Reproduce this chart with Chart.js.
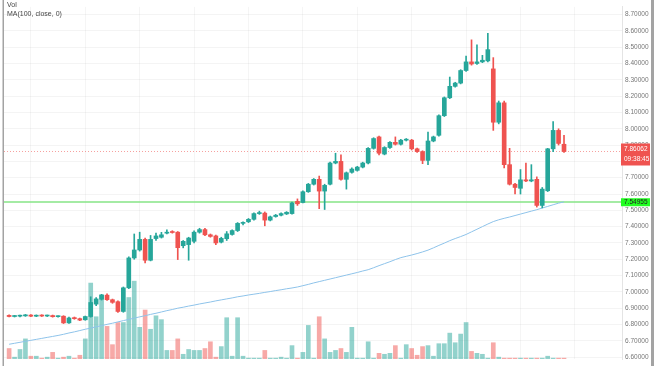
<!DOCTYPE html>
<html>
<head>
<meta charset="utf-8">
<script src="https://cdn.jsdelivr.net/npm/chart.js@4.4.0/dist/chart.umd.min.js"></script>
<style>
  html, body { margin: 0; padding: 0; background: #fff; }
  #wrap { position: relative; width: 654px; height: 366px; overflow: hidden; }
  #grafico { display: block; }
  .legenda { position: absolute; left: 7px; font: 7px "Liberation Sans", Arial, sans-serif; color: #444; white-space: nowrap; }
</style>
</head>
<body>
<div id="wrap">
  <canvas id="grafico" width="654" height="366"></canvas>
  <div class="legenda" style="top:1px">Vol</div>
  <div class="legenda" style="top:10px">MA(100, close, 0)</div>
</div>
<script>
// velas
const abertura = [
  6.856, 6.849, 6.851, 6.853, 6.858, 6.851, 6.856, 6.852, 6.855, 6.848,
  6.851, 6.810, 6.840, 6.836, 6.829, 6.849, 6.925, 6.955, 6.980, 6.952,
  6.940, 6.880, 7.025, 7.208, 7.257, 7.322, 7.194, 7.327, 7.335, 7.360,
  7.368, 7.366, 7.283, 7.290, 7.310, 7.366, 7.382, 7.350, 7.343, 7.305,
  7.326, 7.352, 7.376, 7.420, 7.430, 7.445, 7.480, 7.483, 7.440, 7.462,
  7.470, 7.478, 7.480, 7.555, 7.548, 7.614, 7.660, 7.690, 7.618, 7.660,
  7.790, 7.800, 7.690, 7.733, 7.745, 7.765, 7.790, 7.880, 7.950, 7.845,
  7.885, 7.917, 7.905, 7.930, 7.930, 7.877, 7.860, 7.806, 7.925, 7.960,
  8.080, 8.190, 8.260, 8.280, 8.357, 8.410, 8.400, 8.410, 8.416, 8.367,
  8.040, 8.159, 7.780, 7.660, 7.635, 7.687, 7.680, 7.690, 7.530, 7.620,
  7.877, 7.990, 7.905
];
const maximas = [
  6.860, 6.856, 6.858, 6.862, 6.861, 6.859, 6.860, 6.858, 6.858, 6.854,
  6.854, 6.845, 6.846, 6.840, 6.852, 6.970, 6.965, 6.985, 6.988, 6.956,
  6.945, 7.030, 7.215, 7.355, 7.366, 7.330, 7.346, 7.360, 7.365, 7.380,
  7.375, 7.370, 7.315, 7.335, 7.375, 7.390, 7.390, 7.355, 7.348, 7.335,
  7.370, 7.380, 7.425, 7.430, 7.450, 7.485, 7.495, 7.490, 7.465, 7.475,
  7.485, 7.492, 7.550, 7.570, 7.620, 7.665, 7.695, 7.710, 7.660, 7.795,
  7.850, 7.840, 7.735, 7.760, 7.770, 7.795, 7.885, 7.945, 7.955, 7.890,
  7.922, 7.950, 7.935, 7.940, 7.935, 7.882, 7.865, 7.980, 7.955, 8.085,
  8.195, 8.317, 8.285, 8.362, 8.446, 8.545, 8.515, 8.450, 8.585, 8.436,
  8.170, 8.170, 7.880, 7.665, 7.750, 7.790, 7.780, 7.705, 7.640, 7.880,
  8.044, 8.000, 7.960
];
const minimas = [
  6.846, 6.846, 6.847, 6.850, 6.848, 6.848, 6.849, 6.849, 6.845, 6.845,
  6.806, 6.806, 6.832, 6.823, 6.826, 6.845, 6.915, 6.950, 6.948, 6.930,
  6.874, 6.875, 7.020, 7.200, 7.250, 7.178, 7.190, 7.315, 7.330, 7.355,
  7.360, 7.198, 7.270, 7.194, 7.300, 7.360, 7.345, 7.335, 7.290, 7.300,
  7.315, 7.348, 7.370, 7.410, 7.425, 7.440, 7.475, 7.405, 7.435, 7.458,
  7.465, 7.474, 7.476, 7.530, 7.545, 7.610, 7.655, 7.510, 7.505, 7.655,
  7.785, 7.685, 7.630, 7.728, 7.740, 7.760, 7.785, 7.875, 7.840, 7.840,
  7.880, 7.900, 7.900, 7.925, 7.870, 7.855, 7.786, 7.780, 7.920, 7.955,
  8.075, 8.185, 8.255, 8.275, 8.352, 8.390, 8.395, 8.405, 8.410, 7.990,
  8.030, 7.760, 7.655, 7.600, 7.600, 7.675, 7.675, 7.520, 7.515, 7.615,
  7.860, 7.900, 7.855
];
const fechamento = [
  6.849, 6.853, 6.855, 6.858, 6.851, 6.856, 6.852, 6.855, 6.848, 6.851,
  6.810, 6.840, 6.836, 6.827, 6.849, 6.935, 6.957, 6.980, 6.952, 6.936,
  6.880, 7.025, 7.208, 7.257, 7.322, 7.194, 7.322, 7.343, 7.350, 7.366,
  7.364, 7.271, 7.310, 7.330, 7.366, 7.382, 7.350, 7.340, 7.300, 7.328,
  7.356, 7.376, 7.420, 7.425, 7.445, 7.480, 7.484, 7.440, 7.460, 7.470,
  7.480, 7.488, 7.545, 7.540, 7.614, 7.660, 7.690, 7.618, 7.653, 7.790,
  7.800, 7.690, 7.730, 7.753, 7.765, 7.790, 7.880, 7.940, 7.850, 7.885,
  7.917, 7.905, 7.930, 7.935, 7.877, 7.860, 7.806, 7.925, 7.950, 8.080,
  8.190, 8.260, 8.280, 8.357, 8.410, 8.397, 8.410, 8.420, 8.485, 8.040,
  8.159, 7.780, 7.660, 7.640, 7.687, 7.680, 7.687, 7.530, 7.630, 7.877,
  7.990, 7.910, 7.86062
];
const volume = [
  11, 2, 10, 21, 3, 3, 1, 2, 7, 1,
  2, 3, 1, 4, 21, 79, 44, 67, 34, 15,
  38, 38, 64, 81, 33, 51, 31, 45, 41, 9,
  9, 21, 5, 10, 9, 9, 11, 18, 2, 13,
  43, 3, 43, 3, 1, 1, 1, 9, 1, 1,
  2, 1, 14, 1, 7, 35, 1, 44, 21, 7,
  9, 11, 7, 33, 1, 1, 18, 1, 6, 5,
  6, 14, 1, 15, 11, 4, 13, 14, 3, 16,
  16, 27, 17, 26, 38, 8, 6, 5, 1, 17,
  2, 1, 1, 1, 1, 1, 1, 1, 1, 3,
  1, 1, 1
];
// média móvel 100 (close)
const media100 = [
  6.679, 6.685, 6.691, 6.697, 6.703, 6.709, 6.715, 6.721, 6.727, 6.733,
  6.740, 6.748, 6.755, 6.763, 6.771, 6.778, 6.786, 6.793, 6.801, 6.808,
  6.816, 6.824, 6.831, 6.839, 6.847, 6.854, 6.862, 6.869, 6.877, 6.885,
  6.892, 6.900, 6.906, 6.913, 6.919, 6.926, 6.932, 6.938, 6.945, 6.951,
  6.957, 6.963, 6.970, 6.975, 6.981, 6.986, 6.991, 6.997, 7.002, 7.008,
  7.013, 7.019, 7.024, 7.030, 7.038, 7.046, 7.055, 7.063, 7.071, 7.079,
  7.087, 7.095, 7.103, 7.111, 7.119, 7.128, 7.136, 7.148, 7.161, 7.173,
  7.185, 7.198, 7.210, 7.218, 7.226, 7.235, 7.245, 7.256, 7.270, 7.285,
  7.299, 7.314, 7.327, 7.339, 7.352, 7.368, 7.384, 7.400, 7.416, 7.431,
  7.442, 7.451, 7.459, 7.468, 7.477, 7.486, 7.495, 7.504, 7.514, 7.524,
  7.534, 7.544, 7.552
];
const rotulosPreco = [6.6, 6.7, 6.8, 6.9, 7.0, 7.1, 7.2, 7.3, 7.4, 7.5, 7.6, 7.7, 7.8, 7.9, 8.0, 8.1, 8.2, 8.3, 8.4, 8.5, 8.6, 8.7];
const linhasVerticais = [4, 14, 24, 34, 44, 54, 64, 74, 84, 94, 104];
const precoLinha = 7.54955;
const horaVela = "09:38:45";

const corAlta = '#26a69a';
const corBaixa = '#ef5350';

const indices = abertura.map((_, i) => i);
const ultimoPreco = fechamento[fechamento.length - 1];
const cores = indices.map(i => fechamento[i] >= abertura[i] ? corAlta : corBaixa);
const coresVolume = indices.map(i => fechamento[i] >= abertura[i] ? 'rgba(38,166,154,0.5)' : 'rgba(239,83,80,0.5)');

const corpos = indices.map(i => ({ x: i, y: [abertura[i], fechamento[i]] }));
const pavios = indices.map(i => ({ x: i, y: [minimas[i], maximas[i]] }));
const barrasVolume = indices.map(i => ({ x: i, y: volume[i] }));
const pontosMedia = indices.map(i => ({ x: i, y: media100[i] }));

const marcacoes = {
    id: 'marcacoes',
    beforeDatasetsDraw(chart) {
        const { ctx, chartArea, scales } = chart;
        const yVerde = Math.round(scales.y.getPixelForValue(precoLinha));
        const yVermelho = Math.round(scales.y.getPixelForValue(ultimoPreco)) + 0.5;
        ctx.save();
        ctx.strokeStyle = 'rgba(239,83,80,0.55)';
        ctx.lineWidth = 1;
        ctx.setLineDash([1, 2]);
        ctx.beginPath();
        ctx.moveTo(chartArea.left, yVermelho);
        ctx.lineTo(chartArea.right, yVermelho);
        ctx.stroke();
        ctx.setLineDash([]);
        ctx.strokeStyle = '#86e486';
        ctx.lineWidth = 1.5;
        ctx.beginPath();
        ctx.moveTo(chartArea.left, yVerde);
        ctx.lineTo(chartArea.right, yVerde);
        ctx.stroke();
        ctx.restore();
    },
    afterDraw(chart) {
        const { ctx, chartArea, scales } = chart;
        const yVerde = scales.y.getPixelForValue(precoLinha);
        const yVermelho = scales.y.getPixelForValue(ultimoPreco);
        const x0 = chartArea.right - 1;
        ctx.save();
        ctx.font = '6.5px "Liberation Sans", Arial, sans-serif';
        ctx.textBaseline = 'middle';
        ctx.textAlign = 'left';

        ctx.fillStyle = '#ef5350';
        ctx.fillRect(x0, yVermelho - 8, 29, 22);
        ctx.fillStyle = '#ffffff';
        ctx.fillText(ultimoPreco.toFixed(5), x0 + 3, yVermelho - 2.5);
        ctx.fillText(horaVela, x0 + 3, yVermelho + 8);

        ctx.fillStyle = '#22ff22';
        ctx.fillRect(x0, yVerde - 4, 29, 8);
        ctx.fillStyle = '#222222';
        ctx.fillText(precoLinha.toFixed(5), x0 + 3, yVerde);

        // bordas cinza
        ctx.fillStyle = '#a3a3a3';
        ctx.fillRect(2.5, 0, 1.5, chart.height);
        ctx.fillRect(651, 0, 3, chart.height);
        ctx.restore();
    }
};

new Chart(document.getElementById('grafico'), {
    type: 'bar',
    data: {
        datasets: [
            {
                label: 'Vol',
                data: barrasVolume,
                yAxisID: 'yv',
                backgroundColor: coresVolume,
                barThickness: 4,
                grouped: false,
                order: 4
            },
            {
                type: 'line',
                label: 'MA',
                data: pontosMedia,
                yAxisID: 'y',
                borderColor: '#8ec3ea',
                borderWidth: 1,
                pointRadius: 0,
                tension: 0,
                order: 3
            },
            {
                label: 'pavios',
                data: pavios,
                yAxisID: 'y',
                backgroundColor: cores,
                barThickness: 1,
                grouped: false,
                order: 2
            },
            {
                label: 'corpos',
                data: corpos,
                yAxisID: 'y',
                backgroundColor: cores,
                barThickness: 4,
                minBarLength: 1,
                grouped: false,
                order: 1
            }
        ]
    },
    options: {
        responsive: false,
        animation: false,
        layout: { padding: { left: 4, right: 0, top: 0, bottom: 0 } },
        plugins: { legend: { display: false }, tooltip: { enabled: false } },
        scales: {
            x: {
                type: 'linear',
                offset: false,
                min: -0.94,
                max: 112.66,
                afterBuildTicks(s) { s.ticks = linhasVerticais.map(v => ({ value: v })); },
                afterFit(s) { s.height = 0; },
                ticks: { display: false },
                grid: { color: 'rgba(0,0,0,0.04)', drawTicks: false, offset: false },
                border: { display: false }
            },
            y: {
                position: 'right',
                min: 6.588,
                max: 8.747,
                afterBuildTicks(s) { s.ticks = rotulosPreco.map(v => ({ value: v })); },
                afterFit(s) { s.width = 32; },
                ticks: {
                    font: { family: 'Liberation Sans', size: 6.5 },
                    color: '#777',
                    padding: 3,
                    callback: v => Number(v).toFixed(5)
                },
                grid: { color: 'rgba(0,0,0,0.045)', drawTicks: false },
                border: { color: '#e4e4e4' }
            },
            yv: {
                display: false,
                min: 0,
                max: 366
            }
        }
    },
    plugins: [marcacoes]
});
</script>
</body>
</html>
